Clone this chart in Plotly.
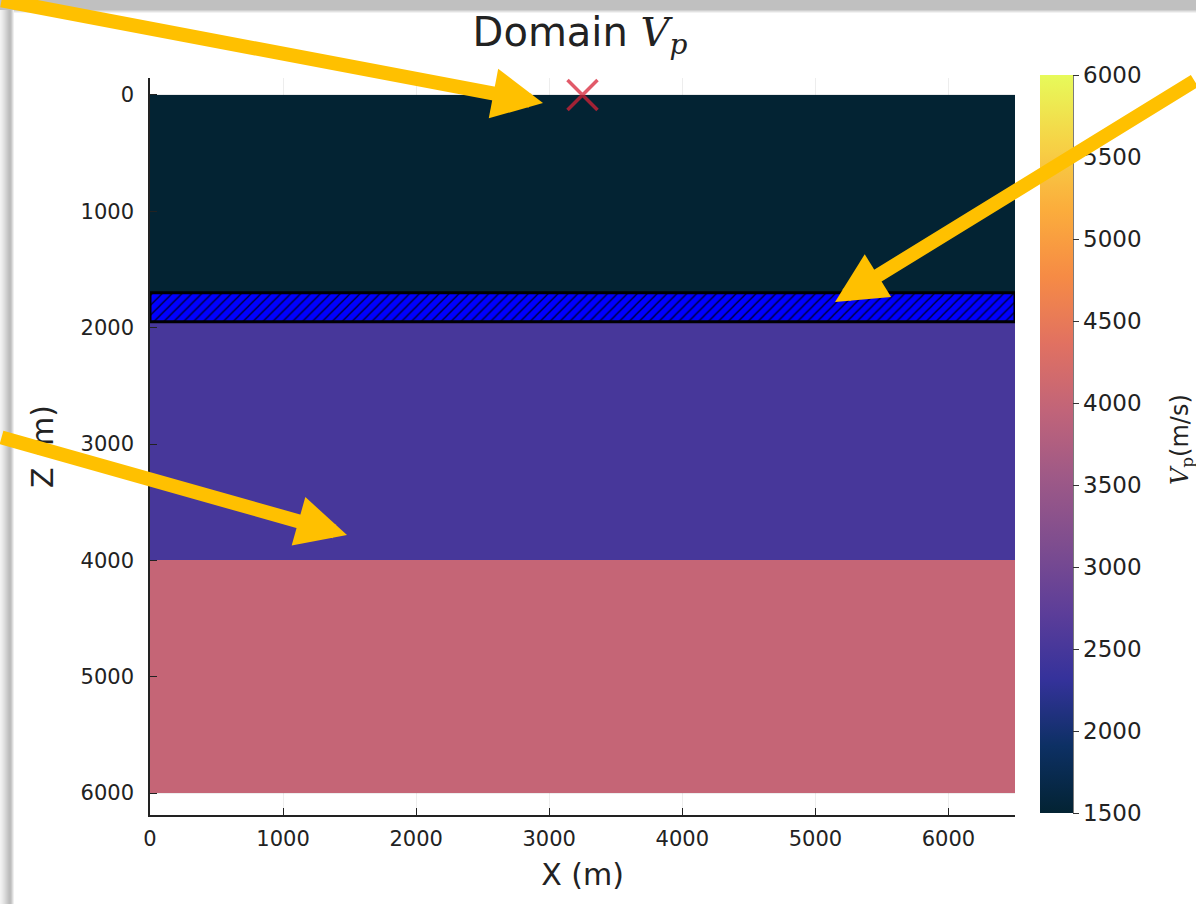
import plotly.graph_objects as go

# ---------------- data ----------------
x_edges = [0, 6500]                       # model extent in X (m)
layer_depths = [0, 1700, 1950, 4000, 6000]  # layer boundaries in Z (m)
layer_vp = [1500, 2000, 2500, 4000]       # Vp of each layer (m/s)
hatch_top = 1700                          # highlighted (hatched) layer
hatch_bottom = 1950
source_x = [3250]
source_z = [0]
x_ticks = [0, 1000, 2000, 3000, 4000, 5000, 6000]
z_ticks = [0, 1000, 2000, 3000, 4000, 5000, 6000]
cbar_ticks = [1500, 2000, 2500, 3000, 3500, 4000, 4500, 5000, 5500, 6000]
vp_min, vp_max = 1500, 6000

# ---------------- layout geometry (pixels) ----------------
FW, FH = 1196, 904
L, R, T, B = 150, 1015, 78, 815
PW, PH = R - L, B - T


def px(xp):
    return (xp - L) / PW


def py(yp):
    return (B - yp) / PH


FONT = "DejaVu Sans"
TXT = "#222222"

fig = go.Figure()

fig.add_trace(go.Heatmap(
    x=x_edges,
    y=layer_depths,
    z=[[v] for v in layer_vp],
    colorscale="thermal",
    zmin=vp_min, zmax=vp_max,
    showscale=True,
    colorbar=dict(
        x=px(1040), xanchor="left",
        y=py(444), yanchor="middle",
        len=738, lenmode="pixels",
        thickness=33, ypad=0, xpad=0,
        outlinewidth=0,
        tickvals=cbar_ticks,
        ticks="outside", ticklen=6, tickwidth=1.3, tickcolor="#333",
        tickfont=dict(family=FONT, size=23, color=TXT),
    ),
    hoverinfo="skip",
))

# hatched highlighted layer
fig.add_trace(go.Scatter(
    x=[x_edges[0], x_edges[1], x_edges[1], x_edges[0], x_edges[0]],
    y=[hatch_top, hatch_top, hatch_bottom, hatch_bottom, hatch_top],
    mode="lines",
    fill="toself",
    fillcolor="#0000ff",
    fillpattern=dict(shape="/", fgcolor="#000028", bgcolor="#0000ff",
                     size=7, solidity=0.18, fillmode="replace"),
    line=dict(color="#000000", width=3),
    showlegend=False,
    hoverinfo="skip",
))

# source position
fig.add_trace(go.Scatter(
    x=source_x, y=source_z,
    mode="markers",
    marker=dict(symbol="x-thin", size=30,
                line=dict(color="rgba(215,35,55,0.75)", width=3.5)),
    showlegend=False, cliponaxis=False,
    hoverinfo="skip",
))

axis_common = dict(
    showline=True, linecolor="#222", linewidth=1.5,
    ticks="inside", ticklen=7, tickwidth=1.3, tickcolor="#222",
    showgrid=True, gridcolor="rgba(0,0,0,0.07)", gridwidth=1,
    zeroline=False, mirror=False,
    tickfont=dict(family=FONT, size=21, color=TXT),
)

fig.update_xaxes(
    range=[x_edges[0], x_edges[1]], tickvals=x_ticks, ticklabelstandoff=4,
    title=dict(text="X (m)", font=dict(family=FONT, size=30, color=TXT), standoff=14),
    **axis_common,
)
fig.update_yaxes(
    range=[6189, -146], tickvals=z_ticks, ticklabelstandoff=10,
    title=dict(text="Z (m)", font=dict(family=FONT, size=30, color=TXT), standoff=18),
    **axis_common,
)

# colorbar axis line
shapes = [
    dict(type="line", xref="paper", yref="paper",
         x0=px(1073), x1=px(1073), y0=py(75), y1=py(813),
         line=dict(color="#333", width=1.3)),
]

# screenshot shadow frame (top and left)
shapes.append(dict(type="rect", xref="paper", yref="paper", layer="above",
                   x0=px(-5), x1=px(FW + 5), y0=py(-5), y1=py(10),
                   fillcolor="#c0c0c0", line=dict(width=0)))
top_fade = ["#d0d0d0", "#e2e2e2", "#f2f2f2"]
for i, c in enumerate(top_fade):
    shapes.append(dict(type="rect", xref="paper", yref="paper", layer="above",
                       x0=px(-5), x1=px(FW + 5), y0=py(10 + i), y1=py(11 + i),
                       fillcolor=c, line=dict(width=0)))
left_cols = ["#f2f2f2", "#eeeeee", "#e9e9e9", "#e3e3e3", "#dddddd", "#d6d6d6",
             "#cfcfcf", "#c8c8c8", "#c1c1c1", "#bcbcbc", "#bdbdbd", "#c9c9c9",
             "#dcdcdc", "#efefef"]
for i, c in enumerate(left_cols):
    shapes.append(dict(type="rect", xref="paper", yref="paper", layer="above",
                       x0=px(i), x1=px(i + 1), y0=py(10), y1=py(FH + 5),
                       fillcolor=c, line=dict(width=0)))

annotations = [
    # colorbar title
    dict(x=px(1181), y=py(440), xref="paper", yref="paper",
         text="<span style='font-family:DejaVu Serif'><i>V</i><sub>p</sub></span>(m/s)",
         textangle=-90, showarrow=False, xanchor="center", yanchor="middle",
         font=dict(family=FONT, size=24, color=TXT)),
]

# highlight arrows (tip pixel, tail pixel)
arrows = [((543, 103), (-30, -1)),
          ((835, 302), (1235, 80)),
          ((347, 535), (-30, 437))]
for (tx, ty), (sx, sy) in arrows:
    annotations.append(dict(
        x=px(tx), y=py(ty), xref="paper", yref="paper",
        ax=sx - tx, ay=sy - ty, axref="pixel", ayref="pixel",
        text="", showarrow=True, arrowhead=2, arrowsize=0.72,
        arrowwidth=14, arrowcolor="#ffc000",
    ))

fig.update_layout(
    width=FW, height=FH, autosize=False,
    margin=dict(l=L, r=FW - R, t=T, b=FH - B, pad=0),
    paper_bgcolor="white", plot_bgcolor="white",
    title=dict(
        text="Domain <span style='font-family:DejaVu Serif'><i>V</i><sub><i>p</i></sub></span>",
        x=px(580), xref="paper", xanchor="center",
        y=1 - 32 / FH, yref="container", yanchor="middle",
        font=dict(family=FONT, size=40, color=TXT),
    ),
    shapes=shapes,
    annotations=annotations,
    showlegend=False,
)

fig.write_html(
    "out.html",
    config={"displayModeBar": False},
    post_script="document.body.style.margin='0';document.body.style.overflow='hidden';",
)
